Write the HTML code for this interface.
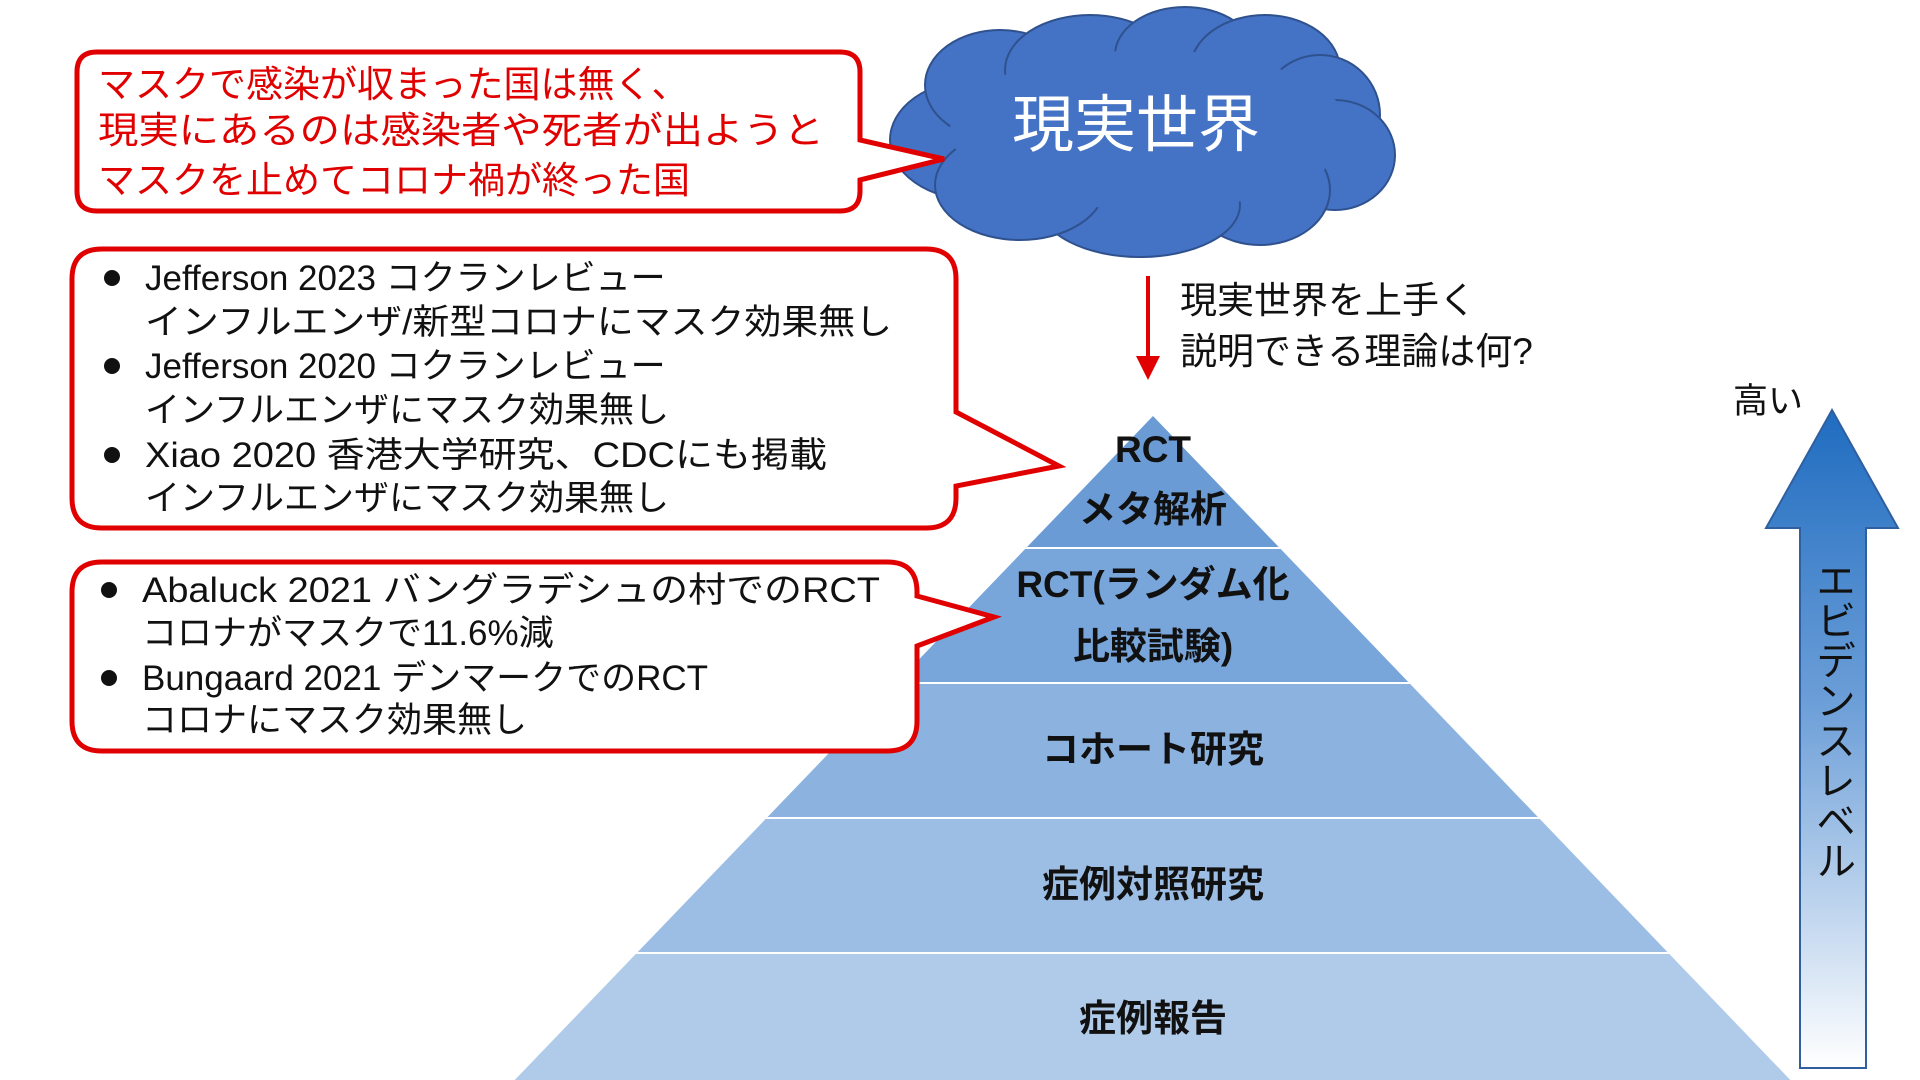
<!DOCTYPE html>
<html><head><meta charset="utf-8"><style>
html,body{margin:0;padding:0;background:#fff;}
svg{display:block;}
text{font-family:"Liberation Sans","Noto Sans CJK JP",sans-serif;}
</style></head><body>
<svg width="1920" height="1080" viewBox="0 0 1920 1080" xmlns="http://www.w3.org/2000/svg">
<defs>
<linearGradient id="ag" x1="0" y1="0" x2="0" y2="1">
<stop offset="0" stop-color="#1f6cc0"/><stop offset="0.45" stop-color="#6d9fd8"/><stop offset="1" stop-color="#ffffff"/>
</linearGradient>
<clipPath id="tri"><polygon points="1153,416 507,1088 1798,1088"/></clipPath>
</defs>
<!-- pyramid -->
<g clip-path="url(#tri)">
<rect x="400" y="400" width="1500" height="148" fill="#6a9bd5"/>
<rect x="400" y="548" width="1500" height="135" fill="#78a5da"/>
<rect x="400" y="683" width="1500" height="135" fill="#8cb3df"/>
<rect x="400" y="818" width="1500" height="135" fill="#9dbee4"/>
<rect x="400" y="953" width="1500" height="140" fill="#afcbe9"/>
<g stroke="#fff" stroke-width="2">
<line x1="400" y1="548" x2="1900" y2="548"/><line x1="400" y1="683" x2="1900" y2="683"/>
<line x1="400" y1="818" x2="1900" y2="818"/><line x1="400" y1="953" x2="1900" y2="953"/>
</g>
</g>
<g font-size="37" font-weight="bold" fill="#111" text-anchor="middle">
<text x="1153" y="462">RCT</text>
<text x="1153" y="522">メタ解析</text>
<text x="1153" y="597">RCT(ランダム化</text>
<text x="1153" y="659">比較試験)</text>
<text x="1153" y="762">コホート研究</text>
<text x="1153" y="897">症例対照研究</text>
<text x="1153" y="1031">症例報告</text>
</g>
<!-- cloud -->
<g fill="#4472c4" stroke="#2f528f" stroke-width="2">
<ellipse cx="975" cy="140" rx="85" ry="60"/>
<ellipse cx="1000" cy="85" rx="75" ry="55"/>
<ellipse cx="1090" cy="70" rx="85" ry="55"/>
<ellipse cx="1185" cy="55" rx="70" ry="48"/>
<ellipse cx="1265" cy="70" rx="75" ry="55"/>
<ellipse cx="1320" cy="115" rx="60" ry="60"/>
<ellipse cx="1335" cy="155" rx="60" ry="55"/>
<ellipse cx="1260" cy="190" rx="70" ry="55"/>
<ellipse cx="1140" cy="205" rx="100" ry="52"/>
<ellipse cx="1020" cy="185" rx="85" ry="55"/>
</g>
<g fill="#4472c4"><ellipse cx="1150" cy="130" rx="200" ry="80"/></g>
<text x="1136" y="146" font-size="62" fill="#fff" text-anchor="middle">現実世界</text>
<!-- callout 1 -->
<path d="M97,52 H840 Q860,52 860,72 V140 L944,159 L860,180 V191 Q860,211 840,211 H97 Q77,211 77,191 V72 Q77,52 97,52 Z" fill="#fff" stroke="#e00000" stroke-width="5"/>
<g font-size="37" fill="#e00000">
<text x="98" y="97">マスクで感染が収まった国は無く、</text>
<text x="98" y="143" textLength="726" lengthAdjust="spacingAndGlyphs">現実にあるのは感染者や死者が出ようと</text>
<text x="98" y="193">マスクを止めてコロナ禍が終った国</text>
</g>
<!-- callout 2 -->
<path d="M102,249 H926 Q956,249 956,279 V412 L1059,466 L956,486 V498 Q956,528 926,528 H102 Q72,528 72,498 V279 Q72,249 102,249 Z" fill="#fff" stroke="#e00000" stroke-width="5"/>
<g font-size="35" fill="#111">
<circle cx="112" cy="278" r="8"/><circle cx="112" cy="366" r="8"/><circle cx="112" cy="455" r="8"/>
<text x="145" y="290">Jefferson 2023 コクランレビュー</text>
<text x="145" y="334" textLength="747" lengthAdjust="spacingAndGlyphs">インフルエンザ/新型コロナにマスク効果無し</text>
<text x="145" y="378">Jefferson 2020 コクランレビュー</text>
<text x="145" y="422">インフルエンザにマスク効果無し</text>
<text x="145" y="467" textLength="682" lengthAdjust="spacingAndGlyphs">Xiao 2020 香港大学研究、CDCにも掲載</text>
<text x="145" y="510">インフルエンザにマスク効果無し</text>
</g>
<!-- callout 3 -->
<path d="M102,562 H887 Q917,562 917,592 V596 L994,617 L917,646 V721 Q917,751 887,751 H102 Q72,751 72,721 V592 Q72,562 102,562 Z" fill="#fff" stroke="#e00000" stroke-width="5"/>
<g font-size="35" fill="#111">
<circle cx="109" cy="590" r="8"/><circle cx="109" cy="678" r="8"/>
<text x="142" y="602" textLength="738" lengthAdjust="spacingAndGlyphs">Abaluck 2021 バングラデシュの村でのRCT</text>
<text x="142" y="645">コロナがマスクで11.6%減</text>
<text x="142" y="690">Bungaard 2021 デンマークでのRCT</text>
<text x="142" y="732">コロナにマスク効果無し</text>
</g>
<!-- red arrow -->
<line x1="1148" y1="276" x2="1148" y2="360" stroke="#e00000" stroke-width="4"/>
<polygon points="1136,356 1160,356 1148,380" fill="#e00000"/>
<g font-size="37" fill="#111">
<text x="1180" y="313">現実世界を上手く</text>
<text x="1180" y="364">説明できる理論は何?</text>
<text x="1733" y="413" font-size="35">高い</text>
</g>
<!-- blue arrow -->
<polygon points="1832,410 1898,528 1866,528 1866,1068 1800,1068 1800,528 1766,528" fill="url(#ag)" stroke="#2f5f9f" stroke-width="2"/>
<text x="1832" y="560" font-size="40" fill="#111" writing-mode="tb" style="writing-mode:vertical-rl" text-anchor="start">エビデンスレベル</text>
</svg>
</body></html>
